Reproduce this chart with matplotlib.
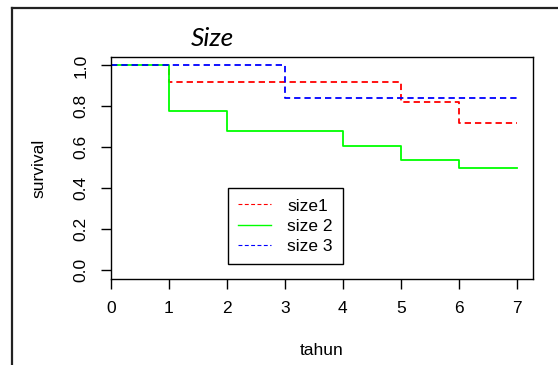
import matplotlib
matplotlib.use("Agg")
from matplotlib import pyplot as plt
from matplotlib.lines import Line2D

# survival curves
years = [0, 1, 2, 3, 4, 5, 6, 7]
size1 = [1.0, 0.92, 0.92, 0.92, 0.92, 0.82, 0.716, 0.716]
size2 = [1.0, 0.776, 0.678, 0.678, 0.608, 0.537, 0.498, 0.498]
size3 = [1.0, 1.0, 1.0, 0.842, 0.842, 0.842, 0.842, 0.842]
labels = ["size1", "size 2", "size 3"]
y_ticks = [0.0, 0.2, 0.4, 0.6, 0.8, 1.0]

plt.rcParams['font.family'] = ['Liberation Sans', 'DejaVu Sans']
fs = 12.5

W, H = 558, 365
fig = plt.figure(figsize=(W / 100, H / 100), dpi=100)
ax = fig.add_axes([111 / W, 1 - 279 / H, (533 - 111) / W, (279 - 57) / H])

dash = (0, (3.5, 2.2))
ax.step(years, size1, where='post', color='red', lw=1.3, linestyle=dash)
ax.step(years, size2, where='post', color='#00ff00', lw=1.3)
ax.step(years, size3, where='post', color='blue', lw=1.3, linestyle=dash)

ax.set_xlim(0, 7.28)
ax.set_ylim(-0.044, 1.041)
ax.set_xticks(years)
ax.set_yticks(y_ticks)
ax.set_yticklabels([f"{v:.1f}" for v in y_ticks], rotation=90, va='center')
ax.tick_params(direction='out', length=7, width=1, labelsize=fs, pad=9)
for s in ax.spines.values():
    s.set_linewidth(1)

ax.set_xlabel("tahun", fontsize=fs, labelpad=19)
ax.set_ylabel("survival", fontsize=fs, labelpad=20)

fig.text(212 / W, 1 - 38 / H, "Size", fontsize=19, style='italic',
         family=['Lato', 'DejaVu Sans'], ha='center', va='center')

handles = [
    Line2D([], [], color='red', lw=0.8, linestyle=dash),
    Line2D([], [], color='#00ff00', lw=1.0),
    Line2D([], [], color='blue', lw=0.8, linestyle=dash),
]
leg = fig.legend(handles, labels, loc='upper left',
                 bbox_to_anchor=(228 / W, 1 - 188 / H), borderaxespad=0,
                 fontsize=fs, fancybox=False, edgecolor='black', framealpha=1,
                 handlelength=1.9, handletextpad=0.9, labelspacing=0.28,
                 borderpad=0.6)
leg.get_frame().set_linewidth(1)

# outer frame of the screenshot
fig.add_artist(Line2D([12 / W, 1], [1 - 8 / H, 1 - 8 / H], color='#222222', lw=1.6))
fig.add_artist(Line2D([12 / W, 12 / W], [0, 1 - 8 / H], color='#222222', lw=1.6))

fig.savefig("out.png", dpi=100)
